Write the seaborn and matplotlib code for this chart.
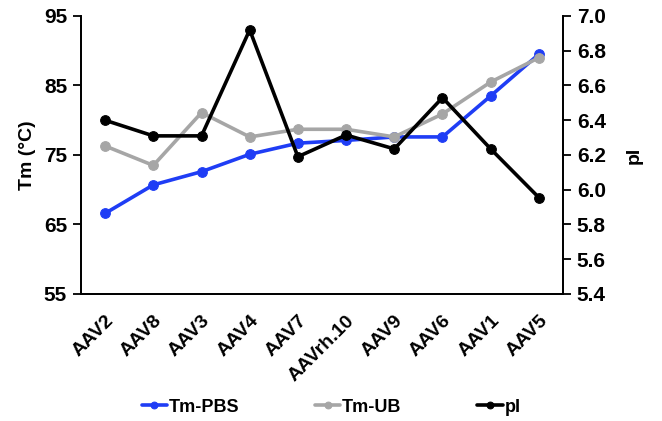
import matplotlib
matplotlib.use("Agg")
import matplotlib.pyplot as plt
import seaborn as sns
import pandas as pd
import numpy as np

serotypes = ["AAV2", "AAV8", "AAV3", "AAV4", "AAV7", "AAVrh.10", "AAV9", "AAV6", "AAV1", "AAV5"]
tm_pbs = [66.6, 70.7, 72.6, 75.1, 76.7, 77.1, 77.6, 77.6, 83.5, 89.5]
tm_ub = [76.3, 73.5, 81.1, 77.6, 78.7, 78.7, 77.6, 80.9, 85.5, 89.0]
pi_vals = [6.40, 6.31, 6.31, 6.92, 6.19, 6.315, 6.235, 6.53, 6.235, 5.955]
left_ticks = [55, 65, 75, 85, 95]
right_ticks = [5.4, 5.6, 5.8, 6.0, 6.2, 6.4, 6.6, 6.8, 7.0]

sns.set_theme(style="white")
plt.rcParams['font.family'] = ['Liberation Sans', 'DejaVu Sans']
plt.rcParams['font.weight'] = 'bold'
for k in ('text.color', 'axes.labelcolor', 'xtick.color', 'ytick.color'):
    plt.rcParams[k] = 'black'

df = pd.DataFrame({"x": np.arange(len(serotypes)), "Tm-PBS": tm_pbs, "Tm-UB": tm_ub, "pI": pi_vals})

fig = plt.figure(figsize=(6.62, 4.21), dpi=100)
ax = fig.add_axes([0.1224, 0.3017, 0.728, 0.6603])
ax2 = ax.twinx()

lw = 2.6
ms = 7
sns.lineplot(data=df, x="x", y="Tm-PBS", ax=ax, color="#1f3df5", lw=lw, marker="o", ms=ms, mec="#1f3df5", label="Tm-PBS", legend=False)
sns.lineplot(data=df, x="x", y="Tm-UB", ax=ax, color="#a6a6a6", lw=lw, marker="o", ms=ms, mec="#a6a6a6", label="Tm-UB", legend=False)
sns.lineplot(data=df, x="x", y="pI", ax=ax2, color="black", lw=lw, marker="o", ms=ms, mec="black", label="pI", legend=False)

ax.set_xlim(-0.5, len(serotypes) - 0.5)
ax.set_ylim(55, 95)
ax2.set_ylim(5.4, 7.0)
ax.set_yticks(left_ticks)
ax.set_yticklabels([str(t) for t in left_ticks], fontsize=15, fontweight='bold')
ax2.set_yticks(right_ticks)
ax2.set_yticklabels([f"{t:.1f}" for t in right_ticks], fontsize=15, fontweight='bold')

ax.set_xticks(np.arange(len(serotypes)))
ax.set_xticklabels(serotypes, rotation=45, ha='right', rotation_mode='anchor', fontsize=14, fontweight='bold')
ax.set_xticks(np.arange(-0.5, len(serotypes)), minor=True)
ax.tick_params(axis='x', which='major', length=0, pad=13)
ax.tick_params(axis='x', which='minor', length=6, width=1.3, direction='inout', color='black')
ax.tick_params(axis='y', length=6, width=1.3, direction='out', color='black', left=True, pad=4)
ax2.tick_params(axis='y', length=6, width=1.3, direction='out', color='black', right=True, pad=4)

ax.set_xlabel("")
ax.set_ylabel("Tm (°C)", fontsize=14, fontweight='bold', labelpad=6)
ax2.set_ylabel("pI", fontsize=14, fontweight='bold', labelpad=14)

for a in (ax, ax2):
    a.spines["top"].set_visible(False)
    for s in ("left", "right", "bottom"):
        a.spines[s].set_color("black")
        a.spines[s].set_linewidth(1.3)
    a.grid(False)

h1, l1 = ax.get_legend_handles_labels()
h2, l2 = ax2.get_legend_handles_labels()
fig.legend(h1 + h2, l1 + l2, loc='center', bbox_to_anchor=(0.5, 0.033), ncol=3, frameon=False,
           prop={'size': 13, 'weight': 'bold'}, handlelength=1.4, columnspacing=4.2, handletextpad=0.1,
           markerscale=0.7)

fig.savefig("out.png", dpi=100)
